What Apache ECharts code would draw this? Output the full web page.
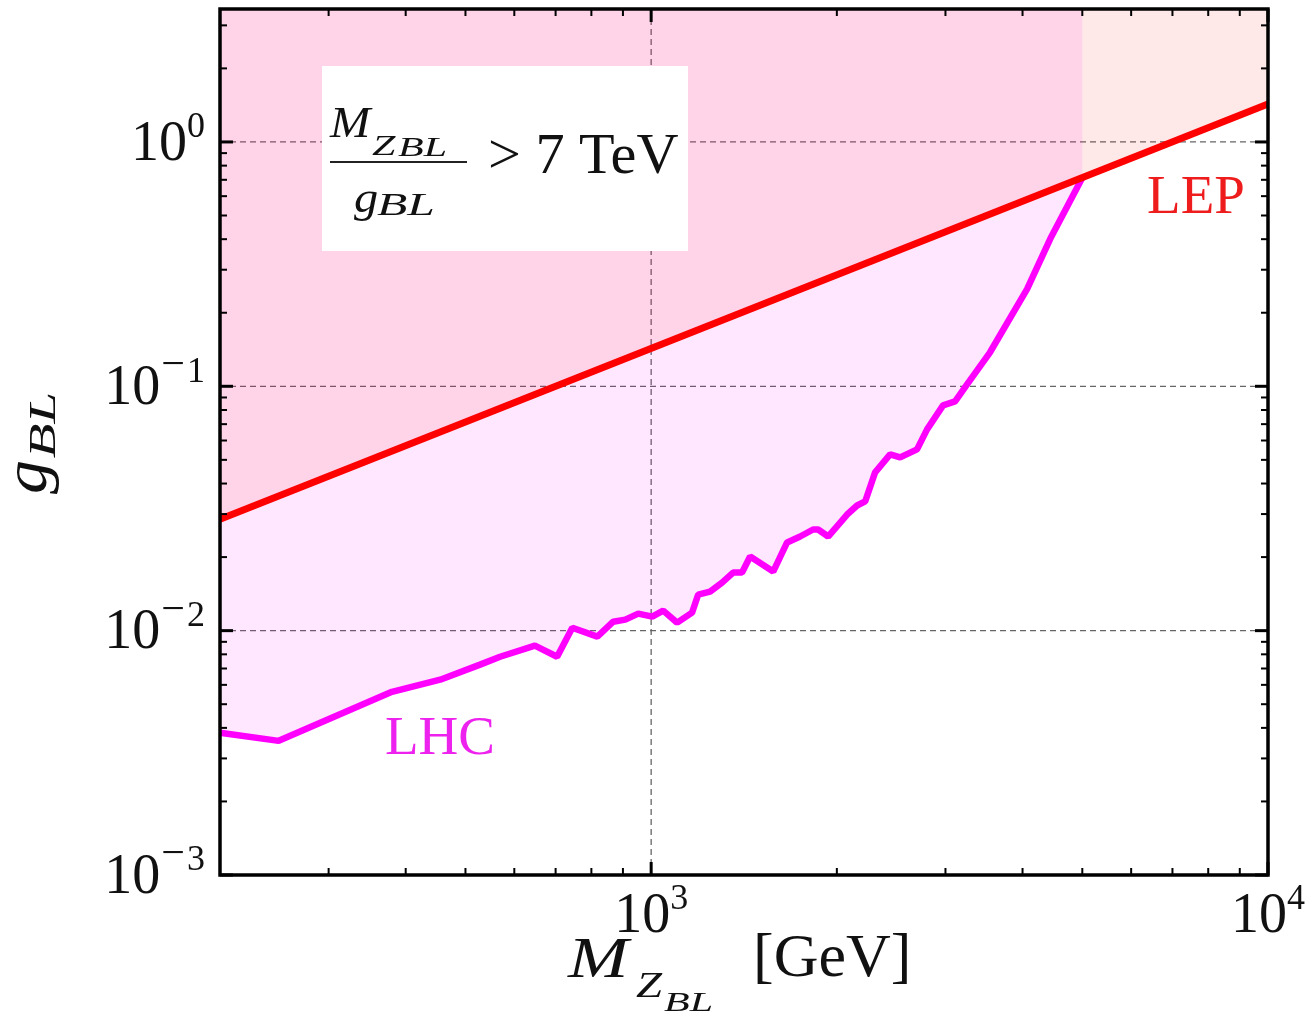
<!DOCTYPE html>
<html><head><meta charset="utf-8">
<script src="https://cdn.jsdelivr.net/npm/echarts@6/dist/echarts.min.js"></script>
<style>html,body{margin:0;padding:0;background:#fff}#c{width:1315px;height:1019px}</style>
</head><body><div id="c"></div>
<script>
// ---- data ----
const lepMass = [200, 10000];
const lepCoupling = [0.0286, 1.43];
const lhcMass = [200, 249, 380, 455, 528, 569, 648, 704, 745, 818, 868, 908, 953, 1004, 1046, 1102, 1165, 1192, 1246, 1303, 1358, 1404, 1447, 1577, 1661, 1744, 1830, 1865, 1936, 2078, 2157, 2223, 2307, 2440, 2533, 2698, 2801, 2973, 3110, 3252, 3543, 4068, 4434, 5000];
const lhcCoupling = [0.00382, 0.00354, 0.00562, 0.00630, 0.00726, 0.00782, 0.00869, 0.00782, 0.01028, 0.00945, 0.01088, 0.01109, 0.01174, 0.01141, 0.01208, 0.01078, 0.01185, 0.01405, 0.01445, 0.01573, 0.01729, 0.01729, 0.02011, 0.01745, 0.02296, 0.02428, 0.02594, 0.02594, 0.02428, 0.02987, 0.03252, 0.03379, 0.04443, 0.05264, 0.05118, 0.05519, 0.06666, 0.08358, 0.08680, 0.1019, 0.1378, 0.2496, 0.4003, 0.714];
const xMajorTicks = [1000, 10000];
const xMinorTicks = [300, 400, 500, 600, 700, 800, 900, 2000, 3000, 4000, 5000, 6000, 7000, 8000, 9000];
const yMajorTicks = [0.001, 0.01, 0.1, 1];
const yMinorTicks = [0.002, 0.003, 0.004, 0.005, 0.006, 0.007, 0.008, 0.009, 0.02, 0.03, 0.04, 0.05, 0.06, 0.07, 0.08, 0.09, 0.2, 0.3, 0.4, 0.5, 0.6, 0.7, 0.8, 0.9, 2, 3];
const xGridLines = [1000];
const yGridLines = [0.01, 0.1, 1];
const xRange = [200, 10000];
const yRange = [0.001, 3.5];

const SERIF = '"Liberation Serif", "DejaVu Serif", serif';

function zip(a, b) { return a.map((v, i) => [v, b[i]]); }

function powLabel(v) {
  const e = Math.log10(v);
  const r = Math.round(e);
  if (Math.abs(e - r) > 1e-6) return '';
  if (r < 0) return '{b|10}{m|\u2212}{s|' + (-r) + '}';
  return '{b|10}{s|' + r + '}';
}
const labelRich = {
  b: { fontSize: 56, fontFamily: SERIF, color: '#111', padding: [6, 0, 0, 0] },
  m: { fontSize: 42, fontFamily: SERIF, color: '#111', padding: [0, 2, 40, 1] },
  s: { fontSize: 36, fontFamily: SERIF, color: '#111', padding: [0, 0, 28, 0] }
};

function gridRender(params, api) {
  const cs = params.coordSys;
  const L = cs.x, T = cs.y, R = cs.x + cs.width, B = cs.y + cs.height;
  const ch = [];
  const st = { stroke: '#666', lineWidth: 1.3, lineDash: [6, 4] };
  xGridLines.forEach(v => { const x = api.coord([v, 1])[0]; ch.push({ type: 'line', shape: { x1: x, y1: T, x2: x, y2: B }, style: st }); });
  yGridLines.forEach(v => { const y = api.coord([1000, v])[1]; ch.push({ type: 'line', shape: { x1: L, y1: y, x2: R, y2: y }, style: st }); });
  return { type: 'group', children: ch };
}

function frameRender(params, api) {
  const cs = params.coordSys;
  const L = cs.x, T = cs.y, R = cs.x + cs.width, B = cs.y + cs.height;
  const ch = [];
  const ln = (x1, y1, x2, y2, w) => ch.push({ type: 'line', shape: { x1, y1, x2, y2 }, style: { stroke: '#000', lineWidth: w } });
  xMajorTicks.forEach(v => { const x = api.coord([v, 1])[0]; ln(x, B, x, B - 13, 3); ln(x, T, x, T + 13, 3); });
  xMinorTicks.forEach(v => { const x = api.coord([v, 1])[0]; ln(x, B, x, B - 7, 2); ln(x, T, x, T + 7, 2); });
  yMajorTicks.forEach(v => { const y = api.coord([1000, v])[1]; ln(L, y, L + 13, y, 3); ln(R, y, R - 13, y, 3); });
  yMinorTicks.forEach(v => { const y = api.coord([1000, v])[1]; ln(L, y, L + 7, y, 2); ln(R, y, R - 7, y, 2); });
  ch.push({ type: 'rect', shape: { x: L, y: T, width: R - L, height: B - T }, style: { fill: null, stroke: '#000', lineWidth: 3.5 } });
  return { type: 'group', children: ch };
}

function txt(text, x, y, size, opts) {
  opts = opts || {};
  return {
    type: 'text', x: x, y: y, rotation: opts.rotation || 0, scaleX: opts.sx || 1, z: 100, silent: true,
    style: {
      text: text, fontSize: size, fontFamily: SERIF, fontStyle: opts.italic ? 'italic' : 'normal',
      fill: opts.color || '#111', align: opts.align || 'left', verticalAlign: 'middle'
    }
  };
}

const chart = echarts.init(document.getElementById('c'), null, { renderer: 'canvas' });
chart.setOption({
  animation: false,
  backgroundColor: '#fff',
  grid: { left: 220, right: 47, top: 9, bottom: 144, containLabel: false },
  xAxis: {
    type: 'log', logBase: 10, min: xRange[0], max: xRange[1],
    axisLine: { show: false }, axisTick: { show: false }, splitLine: { show: false }, minorTick: { show: false },
    axisLabel: { formatter: powLabel, rich: labelRich, margin: 7, showMinLabel: true, showMaxLabel: true, hideOverlap: false }
  },
  yAxis: {
    type: 'log', logBase: 10, min: yRange[0], max: yRange[1],
    axisLine: { show: false }, axisTick: { show: false }, splitLine: { show: false }, minorTick: { show: false },
    axisLabel: { formatter: powLabel, rich: labelRich, margin: 15, showMinLabel: true, showMaxLabel: true, hideOverlap: false }
  },
  series: [
    { type: 'custom', name: 'grid', renderItem: gridRender, data: [[1000, 1]], silent: true, z: 2 },
    {
      type: 'line', name: 'LHC', data: zip(lhcMass, lhcCoupling), symbol: 'none', z: 3,
      lineStyle: { color: '#ff00ff', width: 6.5 },
      areaStyle: { color: 'rgba(255,0,255,0.13)', origin: 'end' }
    },
    {
      type: 'line', name: 'LEP', data: zip(lepMass, lepCoupling), symbol: 'none', z: 4,
      lineStyle: { color: '#ff0000', width: 7 },
      areaStyle: { color: 'rgba(255,0,0,0.13)', origin: 'end' }
    },
    { type: 'custom', name: 'frame', renderItem: frameRender, data: [[1000, 1]], silent: true, z: 10 }
  ],
  graphic: [
    { type: 'rect', shape: { x: 322, y: 66, width: 366, height: 185 }, style: { fill: '#fff' }, z: 90, silent: true },
    txt('M', 330, 125, 44, { italic: true, sx: 1.1 }),
    txt('Z', 372, 147, 30, { italic: true, sx: 1.4 }),
    txt('BL', 398, 149, 28, { italic: true, sx: 1.5 }),
    { type: 'line', shape: { x1: 330, y1: 162, x2: 467, y2: 162 }, style: { stroke: '#222', lineWidth: 2 }, z: 100, silent: true },
    txt('g', 354, 200, 44, { italic: true, sx: 1.1 }),
    txt('BL', 377, 207, 32, { italic: true, sx: 1.55 }),
    txt('> 7 TeV', 488, 158, 56, { sx: 1.04 }),
    txt('LEP', 1196, 199, 55, { align: 'center', color: '#ee1c1c' }),
    txt('LHC', 440, 740, 55, { align: 'center', color: '#ee22ee' }),
    txt('M', 568, 962, 58, { italic: true, sx: 1.25 }),
    txt('Z', 636, 988, 36, { italic: true, sx: 1.3 }),
    txt('BL', 664, 1004, 28, { italic: true, sx: 1.5 }),
    txt('[GeV]', 753, 960, 62),
    txt('g', 30, 477, 62, { italic: true, align: 'center', rotation: Math.PI / 2, sx: 1.1 }),
    txt('BL', 45, 425, 38, { italic: true, align: 'center', rotation: Math.PI / 2, sx: 1.5 })
  ]
});
</script>
</body></html>
